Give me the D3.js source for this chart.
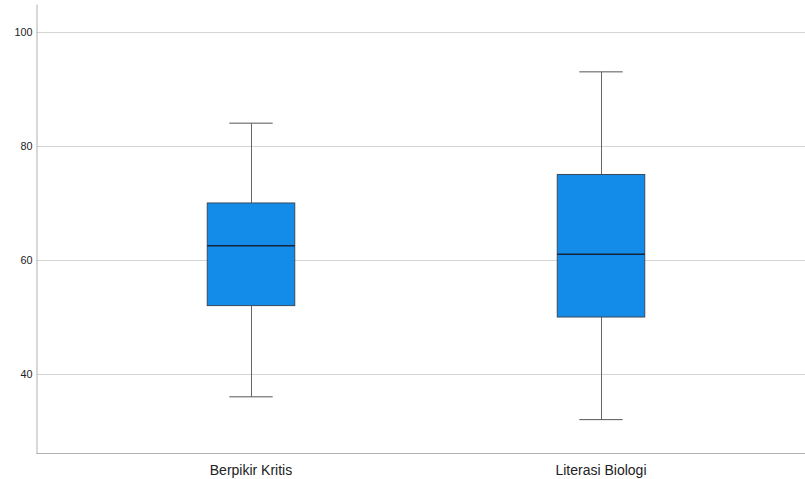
<!DOCTYPE html>
<html lang="id">
<head>
<meta charset="UTF-8">
<title>Boxplot</title>
<script src="https://d3js.org/d3.v7.min.js"></script>
<style>
  body { margin: 0; background: #fff; }
  svg { display: block; font-family: "Liberation Sans", Arial, sans-serif; }
</style>
</head>
<body>
<div id="chart"></div>
<script>
const categories = ["Berpikir Kritis", "Literasi Biologi"];
const whiskerLow = [36, 32];
const q1 = [52, 50];
const median = [62.5, 61];
const q3 = [70, 75];
const whiskerHigh = [84, 93];
const yTicks = [40, 60, 80, 100];

const width = 805, height = 479;
const axisX = 36.5, axisBottom = 453.5, axisTop = 4;

const y = d3.scaleLinear()
  .domain([26.06, 104.9])
  .range([axisBottom, axisTop]);

const x = d3.scaleBand()
  .domain(categories)
  .range([76, 776])
  .padding(0);

const boxW = x.bandwidth() * 0.25;
const capW = x.bandwidth() * 0.124;

const svg = d3.select("#chart").append("svg")
  .attr("width", width).attr("height", height);

// gridlines
svg.append("g").selectAll("line").data(yTicks).join("line")
  .attr("x1", axisX).attr("x2", width)
  .attr("y1", d => Math.round(y(d)) + 0.5).attr("y2", d => Math.round(y(d)) + 0.5)
  .attr("stroke", "#d4d4d4").attr("stroke-width", 1);

// y axis
const yAxis = d3.axisLeft(y).tickValues(yTicks).tickSize(0).tickPadding(4);
const yG = svg.append("g").attr("transform", `translate(${axisX},0)`).call(yAxis);
yG.select(".domain").attr("stroke", "#b0b0b0");
yG.selectAll("text").attr("font-size", 10.8).attr("fill", "#222");

// x axis
const xAxis = d3.axisBottom(x).tickSize(0).tickPadding(11.5);
const xG = svg.append("g").attr("transform", `translate(0,${axisBottom})`).call(xAxis);
xG.select(".domain").attr("d", `M${axisX},0H${width}`).attr("stroke", "#b0b0b0");
xG.selectAll("text").attr("font-size", 14).attr("fill", "#222");

const idx = d3.range(categories.length);
const cx = i => x(categories[i]) + x.bandwidth() / 2;

const g = svg.append("g");
// whiskers
g.selectAll(".whisker").data(idx).join("line")
  .attr("x1", i => Math.round(cx(i)) + 0.5).attr("x2", i => Math.round(cx(i)) + 0.5)
  .attr("y1", i => y(whiskerLow[i])).attr("y2", i => y(whiskerHigh[i]))
  .attr("stroke", "#666");
g.selectAll(".capLo").data(idx).join("line")
  .attr("x1", i => cx(i) - capW / 2).attr("x2", i => cx(i) + capW / 2)
  .attr("y1", i => y(whiskerLow[i])).attr("y2", i => y(whiskerLow[i]))
  .attr("stroke", "#555");
g.selectAll(".capHi").data(idx).join("line")
  .attr("x1", i => cx(i) - capW / 2).attr("x2", i => cx(i) + capW / 2)
  .attr("y1", i => y(whiskerHigh[i])).attr("y2", i => y(whiskerHigh[i]))
  .attr("stroke", "#555");
// boxes
g.selectAll("rect").data(idx).join("rect")
  .attr("x", i => cx(i) - boxW / 2).attr("width", boxW)
  .attr("y", i => y(q3[i])).attr("height", i => y(q1[i]) - y(q3[i]))
  .attr("fill", "#128ce8").attr("stroke", "#3a4a5a").attr("stroke-width", 1);
// medians
g.selectAll(".med").data(idx).join("line")
  .attr("x1", i => cx(i) - boxW / 2).attr("x2", i => cx(i) + boxW / 2)
  .attr("y1", i => y(median[i])).attr("y2", i => y(median[i]))
  .attr("stroke", "#13233c").attr("stroke-width", 1.5);
</script>
</body>
</html>
